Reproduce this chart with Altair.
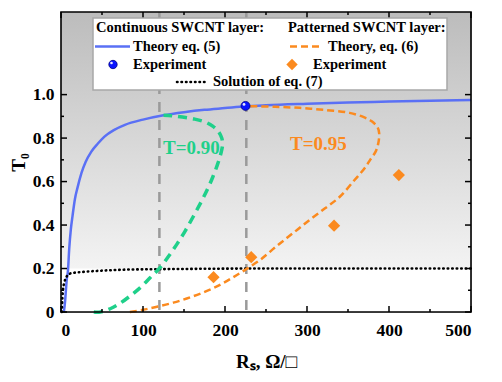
import altair as alt
import pandas as pd

# ---------------- data ----------------
rs_theory5 = [3.5, 5, 6, 7, 8.5, 10, 12, 14, 17, 20, 25, 30, 37, 45, 53, 65, 78, 100,
              125, 150, 175, 200, 225, 250, 300, 350, 400, 450, 500]
t_theory5 = [0, 0.05, 0.10, 0.15, 0.19, 0.29, 0.38, 0.44, 0.52, 0.57, 0.64, 0.69, 0.738,
             0.775, 0.807, 0.838, 0.861, 0.885, 0.905, 0.919, 0.93, 0.938, 0.946, 0.951,
             0.958, 0.964, 0.968, 0.972, 0.975]

rs_sol7 = [1, 1.5, 2.4, 4, 6.5, 10.6, 15, 25, 49, 80, 150, 250, 500]
t_sol7 = [0, 0.05, 0.10, 0.135, 0.16, 0.176, 0.18, 0.184, 0.19, 0.195, 0.198, 0.2, 0.2]

rs_t090 = [40, 48, 60, 70, 83, 96, 108, 121, 131, 141, 151, 161, 170, 178, 185, 191, 195,
           197, 196, 192, 185, 175, 162, 148, 135, 125]
t_t090 = [0, 0, 0.015, 0.035, 0.07, 0.11, 0.155, 0.205, 0.255, 0.31, 0.37, 0.437, 0.5,
          0.56, 0.62, 0.68, 0.73, 0.77, 0.80, 0.83, 0.855, 0.875, 0.888, 0.897, 0.903, 0.905]

rs_t095 = [84, 100, 118, 137, 158, 178, 195, 210, 225, 243, 262, 282, 302, 322, 340, 358,
           370, 377, 384, 387, 388, 386, 379, 370, 352, 320, 291, 260, 228]
t_t095 = [0, 0.01, 0.025, 0.043, 0.068, 0.097, 0.127, 0.16, 0.195, 0.24, 0.30, 0.36, 0.42,
          0.477, 0.53, 0.607, 0.66, 0.70, 0.74, 0.777, 0.823, 0.85, 0.877, 0.895, 0.916,
          0.93, 0.939, 0.944, 0.947]

exp_cont_rs = [225]
exp_cont_t = [0.948]

exp_pat_rs = [186, 232, 333, 412]
exp_pat_t = [0.16, 0.252, 0.397, 0.63]

vlines_rs = [120, 226]

curve_labels = ["T=0.90", "T=0.95"]
curve_label_rs = [159, 314]
curve_label_t = [0.754, 0.775]

x_major = [0, 100, 200, 300, 400, 500]
x_minor = [50, 150, 250, 350, 450]
y_major = [0, 0.2, 0.4, 0.6, 0.8, 1.0]
y_minor = [0.1, 0.3, 0.5, 0.7, 0.9]

# ---------------- styling ----------------
W, H = 410, 300
FONT = "Liberation Serif"
BLUE = "#5a70f5"
GREEN = "#1fd08a"
ORANGE = "#fb8a1f"

xs = alt.Scale(domain=[0, 500], nice=False, zero=False)
ys = alt.Scale(domain=[0, 1.38], nice=False, zero=False)


def df(xv, yv):
    return pd.DataFrame({"x": xv, "y": yv, "i": range(len(xv))})


X = alt.X("x:Q", scale=xs,
          axis=alt.Axis(values=x_major, title="Rₛ, Ω/□", ticks=False, domain=False, grid=False,
                        labelFont=FONT, labelFontSize=17.5, labelFontWeight="bold", labelColor="black",
                        labelPadding=9, titleFont=FONT, titleFontSize=19, titleFontWeight="bold",
                        titleColor="black", titlePadding=14))
Y = alt.Y("y:Q", scale=ys,
          axis=alt.Axis(values=y_major, title="T₀", ticks=False, domain=False, grid=False,
                        labelExpr="datum.value == 0 ? '0' : format(datum.value, '.1f')",
                        labelFont=FONT, labelFontSize=17.5, labelFontWeight="bold", labelColor="black",
                        labelPadding=7, titleFont=FONT, titleFontSize=19, titleFontWeight="bold",
                        titleColor="black", titlePadding=4))

bg = alt.Chart(pd.DataFrame({"x": [0], "x2": [500], "y": [1.38], "y2": [0.2]})).mark_rect(
    fill=alt.Gradient(gradient="linear", x1=0, x2=0, y1=0, y2=1,
                      stops=[alt.GradientStop(color="#bcbcbc", offset=0),
                             alt.GradientStop(color="#f3f3f3", offset=1)])
).encode(x=X, x2="x2:Q", y=Y, y2="y2:Q")

vl = alt.Chart(pd.DataFrame({"x": vlines_rs})).mark_rule(
    color="#9a9a9a", strokeWidth=2.5, strokeDash=[10, 8]
).encode(x=X, y=alt.value(0), y2=alt.value(H))

blue = alt.Chart(df(rs_theory5, t_theory5)).mark_line(
    color=BLUE, strokeWidth=2.5, interpolate="monotone").encode(x=X, y=Y, order="i:Q")
sol = alt.Chart(df(rs_sol7, t_sol7)).mark_line(
    color="black", strokeWidth=2.6, strokeDash=[0.5, 4], strokeCap="round",
    interpolate="monotone").encode(x=X, y=Y, order="i:Q")
green = alt.Chart(df(rs_t090, t_t090)).mark_line(
    color=GREEN, strokeWidth=3.5, strokeDash=[9, 6], interpolate="catmull-rom").encode(
    x=X, y=Y, order="i:Q")
orange = alt.Chart(df(rs_t095, t_t095)).mark_line(
    color=ORANGE, strokeWidth=2.5, strokeDash=[7, 4], interpolate="catmull-rom").encode(
    x=X, y=Y, order="i:Q")

diam = alt.Chart(df(exp_pat_rs, exp_pat_t)).mark_point(
    shape="diamond", filled=True, color=ORANGE, size=150, opacity=1).encode(x=X, y=Y)
ball = alt.Chart(df(exp_cont_rs, exp_cont_t)).mark_circle(
    color="#0a14ff", size=80, opacity=1, stroke="#000080", strokeWidth=0.8).encode(x=X, y=Y)
ball_hl = alt.Chart(df(exp_cont_rs, exp_cont_t)).mark_circle(
    color="white", size=8, opacity=0.9).encode(x=X, y=Y, xOffset=alt.value(-1.5), yOffset=alt.value(-1.5))

lbl = alt.Chart(pd.DataFrame({"x": curve_label_rs, "y": curve_label_t, "t": curve_labels,
                              "c": [GREEN, ORANGE]})).mark_text(
    font=FONT, fontSize=19, fontWeight="bold", align="center", baseline="middle").encode(
    x=X, y=Y, text="t:N", color=alt.Color("c:N", scale=None))

# inward ticks on all four sides
tk_x = pd.DataFrame({"x": x_major + x_minor, "len": [6] * len(x_major) + [3] * len(x_minor)})
tk_y = pd.DataFrame({"y": y_major + y_minor, "len": [6] * len(y_major) + [3] * len(y_minor)})
tick_style = dict(color="black", strokeWidth=1.5)
ticks = []
for L in (6, 3):
    dx = tk_x[tk_x["len"] == L]
    dy = tk_y[tk_y["len"] == L]
    ticks.append(alt.Chart(dx).mark_rule(**tick_style).encode(x=X, y=alt.value(H), y2=alt.value(H - L)))
    ticks.append(alt.Chart(dx).mark_rule(**tick_style).encode(x=X, y=alt.value(0), y2=alt.value(L)))
    ticks.append(alt.Chart(dy).mark_rule(**tick_style).encode(y=Y, x=alt.value(0), x2=alt.value(L)))
    ticks.append(alt.Chart(dy).mark_rule(**tick_style).encode(y=Y, x=alt.value(W), x2=alt.value(W - L)))

frame = alt.Chart(pd.DataFrame({"a": [0]})).mark_rect(
    filled=False, stroke="black", strokeWidth=1.6).encode(
    x=alt.value(0), x2=alt.value(W), y=alt.value(0), y2=alt.value(H))

# ---------------- legend (decoration) ----------------
one = pd.DataFrame({"a": [0]})
LX0, LX1, LY0, LY1 = 32, 386, 6, 78
leg_box = alt.Chart(one).mark_rect(fill="white", stroke="#a8a8a8", strokeWidth=1.5).encode(
    x=alt.value(LX0), x2=alt.value(LX1), y=alt.value(LY0), y2=alt.value(LY1))

tf = dict(font=FONT, fontSize=14.5, fontWeight="bold", color="black", align="left", baseline="middle")


def txt(s, x, y):
    return alt.Chart(pd.DataFrame({"t": [s]})).mark_text(**tf).encode(
        text="t:N", x=alt.value(x), y=alt.value(y))


r1, r2, r3, r4 = 16, 34.5, 52.5, 70
leg = [
    leg_box,
    txt("Continuous SWCNT layer:", 35, r1),
    txt("Patterned SWCNT layer:", 227, r1),
    alt.Chart(one).mark_rule(color=BLUE, strokeWidth=2.5).encode(
        x=alt.value(34), x2=alt.value(69), y=alt.value(r2)),
    txt("Theory eq. (5)", 72, r2),
    alt.Chart(one).mark_rule(color=ORANGE, strokeWidth=2.5, strokeDash=[7, 4]).encode(
        x=alt.value(229), x2=alt.value(262), y=alt.value(r2)),
    txt("Theory, eq. (6)", 267, r2),
    alt.Chart(one).mark_circle(color="#0a14ff", size=70, opacity=1, stroke="#000080",
                               strokeWidth=0.8).encode(x=alt.value(52), y=alt.value(r3)),
    alt.Chart(one).mark_circle(color="white", size=7, opacity=0.9).encode(
        x=alt.value(50.5), y=alt.value(r3 - 1.5)),
    txt("Experiment", 72, r3),
    alt.Chart(one).mark_point(shape="diamond", filled=True, color=ORANGE, size=130, opacity=1).encode(
        x=alt.value(231), y=alt.value(r3)),
    txt("Experiment", 252, r3),
    alt.Chart(one).mark_rule(color="black", strokeWidth=2.6, strokeDash=[0.5, 4], strokeCap="round").encode(
        x=alt.value(116), x2=alt.value(146), y=alt.value(r4)),
    txt("Solution of eq. (7)", 152, r4),
]

chart = alt.layer(
    bg, vl, blue, sol, green, orange, diam, ball, ball_hl, lbl, *ticks, frame, *leg
).properties(
    width=W, height=H,
    autosize=alt.AutoSizeParams(type="none"),
    padding={"left": 53, "top": 4, "right": 23, "bottom": 62},
).configure_view(stroke=None).configure(background="white")

chart.save("out.html", embed_options={"renderer": "svg", "actions": False})
